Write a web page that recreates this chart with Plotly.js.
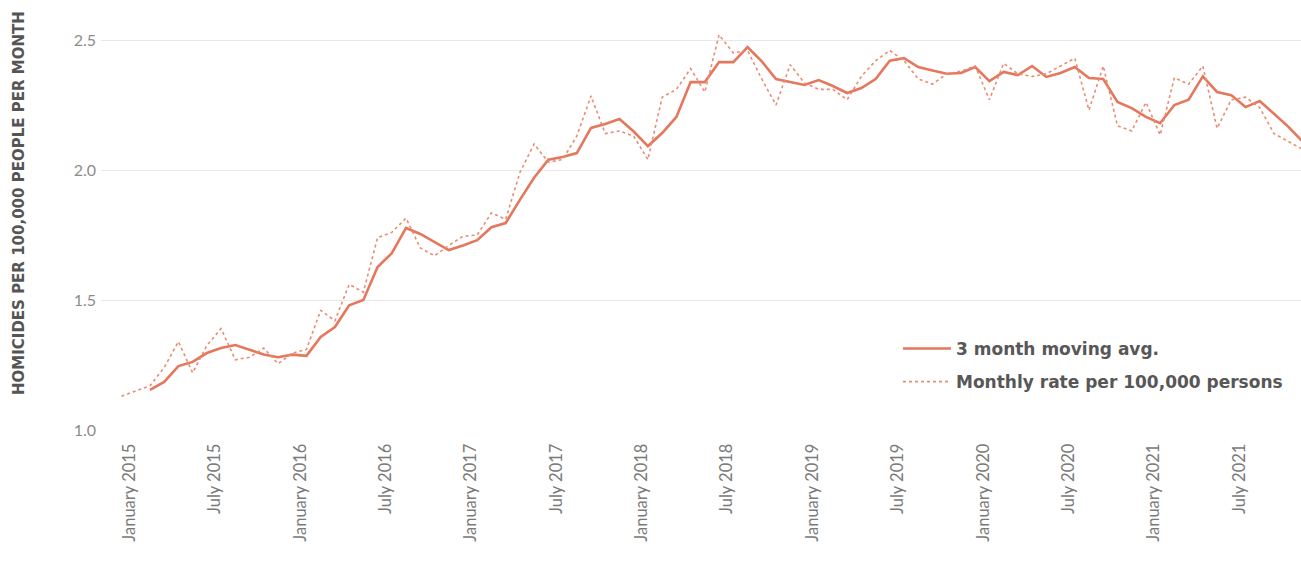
<!DOCTYPE html>
<html>
<head>
<meta charset="utf-8">
<script src="https://cdn.plot.ly/plotly-3.0.1.min.js"></script>
<style>
  html, body { margin: 0; padding: 0; background: #ffffff; }
  #chart { width: 1301px; height: 575px; }
</style>
</head>
<body>
<div id="chart"></div>
<script>
// ---- Data ----
const monthNames = ['January','February','March','April','May','June','July','August','September','October','November','December'];
const years = [2015, 2016, 2017, 2018, 2019, 2020, 2021];

// Monthly homicide rate per 100,000 persons, Jan 2015 .. Dec 2021
const monthlyRate = [
  1.13, 1.15, 1.17, 1.24, 1.34, 1.22, 1.325, 1.39, 1.27, 1.28, 1.315, 1.255,
  1.295, 1.31, 1.46, 1.42, 1.56, 1.53, 1.74, 1.76, 1.815, 1.70, 1.67, 1.71,
  1.745, 1.75, 1.835, 1.81, 1.99, 2.10, 2.03, 2.04, 2.13, 2.285, 2.14, 2.15,
  2.13, 2.04, 2.28, 2.31, 2.39, 2.30, 2.52, 2.45, 2.46, 2.35, 2.25, 2.405,
  2.335, 2.31, 2.31, 2.27, 2.36, 2.42, 2.46, 2.42, 2.35, 2.33, 2.37, 2.38,
  2.40, 2.27, 2.41, 2.37, 2.36, 2.37, 2.40, 2.43, 2.23, 2.40, 2.17, 2.15,
  2.26, 2.135, 2.355, 2.33, 2.40, 2.16, 2.27, 2.28, 2.24, 2.14, 2.11, 2.08
];

// 3 month moving average, Jan 2015 .. Dec 2021 (starts in March 2015)
const movingAvg = [
  null, null, 1.154, 1.185, 1.246, 1.262, 1.296, 1.315, 1.327, 1.31, 1.29, 1.28,
  1.29, 1.285, 1.358, 1.396, 1.48, 1.50, 1.627, 1.68, 1.777, 1.754, 1.723, 1.692,
  1.71, 1.73, 1.78, 1.796, 1.885, 1.97, 2.04, 2.05, 2.065, 2.162, 2.177, 2.196,
  2.148, 2.092, 2.142, 2.204, 2.338, 2.338, 2.415, 2.415, 2.473, 2.418, 2.35, 2.338,
  2.327, 2.346, 2.323, 2.296, 2.315, 2.35, 2.42, 2.43, 2.396, 2.383, 2.37, 2.373,
  2.396, 2.342, 2.377, 2.365, 2.40, 2.358, 2.373, 2.396, 2.354, 2.35, 2.262, 2.238,
  2.204, 2.18, 2.25, 2.27, 2.36, 2.30, 2.288, 2.242, 2.265, 2.216, 2.167, 2.11
];

const yTickVals = [1.0, 1.5, 2.0, 2.5];
const yTickText = ['1.0', '1.5', '2.0', '2.5'];
const yTitle = 'HOMICIDES PER 100,000 PEOPLE PER MONTH';
const seriesNames = ['3 month moving avg.', 'Monthly rate per 100,000 persons'];

// ---- Build category labels ----
const months = [];
years.forEach(y => monthNames.forEach(m => months.push(m + ' ' + y)));
const tickLabels = months.filter(m => m.startsWith('January') || m.startsWith('July'));

// ---- Geometry ----
const W = 1301, H = 575;
const M = { l: 101, r: 0, t: 14, b: 145 };
const plotW = W - M.l - M.r;
const plotH = H - M.t - M.b;
function paperX(px) { return (px - M.l) / plotW; }
function paperY(py) { return (H - M.b - py) / plotH; }

const lineColor = '#E5775C';

const traces = [
  {
    x: months, y: movingAvg, type: 'scatter', mode: 'lines',
    name: seriesNames[0], legendgroup: 'a',
    line: { color: lineColor, width: 2.6 },
    connectgaps: false, hoverinfo: 'skip'
  },
  {
    x: months, y: monthlyRate, type: 'scatter', mode: 'lines',
    name: seriesNames[1], legendgroup: 'b',
    line: { color: '#E98C74', width: 1.6, dash: 'dot' },
    hoverinfo: 'skip'
  }
];

const layout = {
  width: W, height: H,
  margin: M,
  paper_bgcolor: '#ffffff', plot_bgcolor: '#ffffff',
  showlegend: true,
  font: { family: 'Lato, "Open Sans", sans-serif', color: '#888888' },
  xaxis: {
    type: 'category',
    categoryorder: 'array', categoryarray: months,
    range: [-1.44, 82.9],
    tickmode: 'array', tickvals: tickLabels, ticktext: tickLabels,
    tickangle: -90,
    ticklabelshift: 8,
    showgrid: false, zeroline: false, showline: false,
    ticks: 'outside', ticklen: 6, tickcolor: 'rgba(0,0,0,0)',
    tickfont: { family: 'Lato, sans-serif', size: 16.5, color: '#7a7a7a' },
    fixedrange: true
  },
  yaxis: {
    range: [1.0, 2.6],
    tickmode: 'array', tickvals: yTickVals, ticktext: yTickText,
    showgrid: true, gridcolor: '#e8e8e8', gridwidth: 1,
    zeroline: false, showline: false,
    ticks: '', ticklabelstandoff: 4,
    tickfont: { family: 'Lato, sans-serif', size: 16, color: '#8c8c8c' },
    fixedrange: true
  },
  legend: {
    x: paperX(898), y: paperY(331), xanchor: 'left', yanchor: 'top',
    bgcolor: 'rgba(255,255,255,0)',
    traceorder: 'grouped', tracegroupgap: 8,
    itemwidth: 48,
    font: { family: '"DejaVu Sans", sans-serif', size: 17, color: '#575757', weight: 'bold' }
  },
  annotations: [
    {
      text: '<b>' + yTitle + '</b>',
      xref: 'paper', yref: 'paper',
      x: paperX(19), y: paperY(203),
      xanchor: 'center', yanchor: 'middle',
      textangle: -90, showarrow: false,
      font: { family: '"DejaVu Sans", sans-serif', size: 15, color: '#555555' }
    }
  ]
};

Plotly.newPlot('chart', traces, layout, { displayModeBar: false, staticPlot: true });
</script>
</body>
</html>
